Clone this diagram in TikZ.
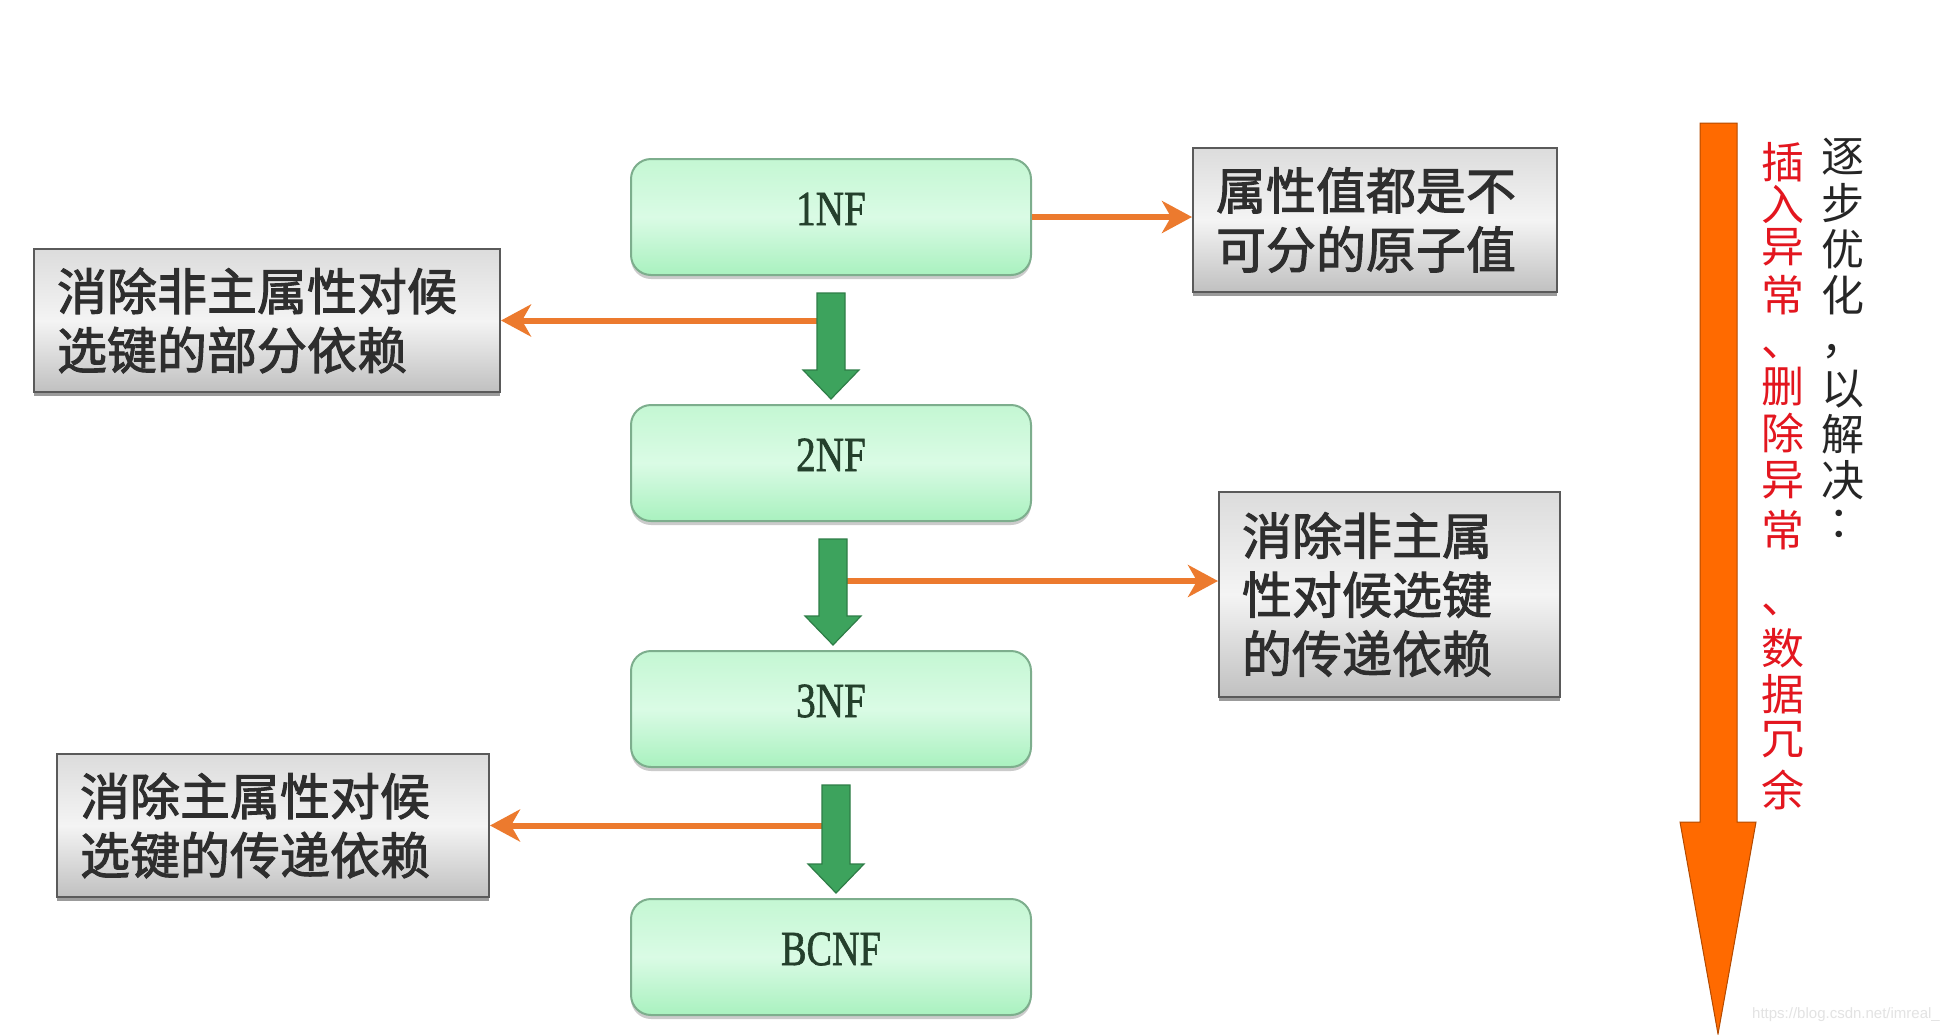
\documentclass[tikz,border=0pt]{standalone}
\usepackage{fontspec}
\setmainfont{Liberation Serif}
\newfontfamily\nffont[FakeBold=1.5]{Liberation Serif}
\newfontfamily\cjk{Noto Sans CJK SC}
\newfontfamily\cjkb[FakeBold=2]{Noto Sans CJK SC}
\newfontfamily\wmfont{Liberation Sans}
\usetikzlibrary{shadows,arrows.meta,calc}

\definecolor{orangeln}{HTML}{EC7A2E}
\definecolor{bigorange}{HTML}{FF6A00}
\definecolor{bigorangedk}{HTML}{B34A00}
\definecolor{garrow}{HTML}{3DA35D}
\definecolor{garrowdk}{HTML}{2E7D47}
\definecolor{gtop}{HTML}{C4F7D3}
\definecolor{gmid}{HTML}{DAFBE5}
\definecolor{gbot}{HTML}{A9F1BF}
\definecolor{gborder}{HTML}{7DAE8D}
\definecolor{nftext}{HTML}{24402C}
\definecolor{btop}{HTML}{DCDCDC}
\definecolor{bmid}{HTML}{F4F4F4}
\definecolor{bbot}{HTML}{C0C0C0}
\definecolor{bborder}{HTML}{5A5A5A}
\definecolor{btext}{HTML}{2E2E2E}
\definecolor{txtred}{HTML}{E3161F}

\tikzset{
  nfbox/.style={draw=gborder, line width=2pt, rounded corners=20pt,
    minimum width=400pt, minimum height=116pt, inner sep=0pt,
    top color=gtop, bottom color=gbot, middle color=gmid,
    drop shadow={shadow xshift=0pt, shadow yshift=-4pt, fill=black!40, opacity=0.5},
    font=\nffont\fontsize{49}{49}\selectfont, text=nftext,
    text height=32pt, text depth=16pt},
  infobox/.style={draw=bborder, line width=2pt, inner xsep=23pt, inner ysep=0pt,
    top color=btop, bottom color=bbot, middle color=bmid,
    drop shadow={shadow xshift=0pt, shadow yshift=-4pt, fill=black!65, opacity=0.6},
    font=\cjkb\fontsize{50}{59}\selectfont, text=btext, align=left},
  conn/.style={draw=orangeln, line width=6pt,
    -{Stealth[length=30pt, width=32pt, inset=9pt]}},
  garrowstyle/.style={fill=garrow, draw=garrowdk, line width=1.2pt, line join=miter},
  vred/.style={font=\cjk\fontsize{43}{43}\selectfont, text=txtred, inner sep=0pt},
  vblk/.style={font=\cjk\fontsize{43}{43}\selectfont, text=black!85, inner sep=0pt}
}

\newcommand{\blockarrow}[3]{%
  \path[garrowstyle] let \p1=($(#1.south)+(#3,17)$), \p2=($(#2.north)+(#3,-5)$) in
    (\x1-14pt,\y1) -- (\x1+14pt,\y1) -- (\x1+14pt,\y2+29pt) -- (\x1+28pt,\y2+29pt)
    -- (\x1,\y2) -- (\x1-28pt,\y2+29pt) -- (\x1-14pt,\y2+29pt) -- cycle;}

\begin{document}
\begin{tikzpicture}[x=1pt,y=-1pt]
\fill[white] (0,0) rectangle (1949,1034);
\useasboundingbox (0,0) rectangle (1949,1034);

% normal form boxes
\node[nfbox] (n1) at (831,217) {\scalebox{0.8}[1]{1NF}};
\node[nfbox] (n2) at (831,463) {\scalebox{0.8}[1]{2NF}};
\node[nfbox] (n3) at (831,709) {\scalebox{0.8}[1]{3NF}};
\node[nfbox] (n4) at (831,957) {\scalebox{0.78}[1]{BCNF}};

% explanation boxes
\node[infobox, text width=420pt, minimum height=143pt] (lb1) at (267,320.5) {消除非主属性对候\\选键的部分依赖};
\node[infobox, text width=318pt, minimum height=144pt] (rb1) at (1375,220) {属性值都是不\\可分的原子值};
\node[infobox, text width=295pt, minimum height=205pt] (rb2) at (1389.5,594.5) {消除非主属\\性对候选键\\的传递依赖};
\node[infobox, text width=386pt, minimum height=143pt] (lb2) at (273,825.5) {消除主属性对候\\选键的传递依赖};

% orange connectors
\coordinate (s2) at (n1.south |- lb1.east);
\coordinate (s3) at ($(n2.south)+(2,59)$);
\coordinate (s4) at ($(n3.south |- lb2.east)+(5,0)$);
\draw[conn] (n1.east) -- (n1.east -| rb1.west);
\draw[conn] (s2) -- (s2 -| lb1.east);
\draw[conn] (s3) -- (s3 -| rb2.west);
\draw[conn] (s4) -- (s4 -| lb2.east);

% green block arrows
\blockarrow{n1}{n2}{0}
\blockarrow{n2}{n3}{2}
\blockarrow{n3}{n4}{5}

% big orange arrow
\fill[bigorange, draw=bigorangedk, line width=1pt]
  (1700,123) -- (1737,123) -- (1737,822) -- (1756,822) -- (1718,1034)
  -- (1680,822) -- (1700,822) -- cycle;

% vertical text
\foreach \c/\yy [count=\i] in {插/162,入/204,异/247,常/295,、/353,删/387,除/433,异/480,常/530,、/610,数/648,据/694,冗/740,余/790}
  \node[vred] (r\i) at (1783,\yy) {\c};
\foreach \c/\yy [count=\i] in {逐/157,步/203,优/249,化/295,，/352,以/389,解/434,决/480}
  \node[vblk] (k\i) at (1843,\yy) {\c};
\node[vblk] (k9) at (1850,524) {：};

% watermark
\node[font=\wmfont\fontsize{15}{15}\selectfont, text=white!78!gray, inner sep=0pt, anchor=east] (wm) at (1940,1015) {https://blog.csdn.net/imreal\_};
\end{tikzpicture}
\end{document}
